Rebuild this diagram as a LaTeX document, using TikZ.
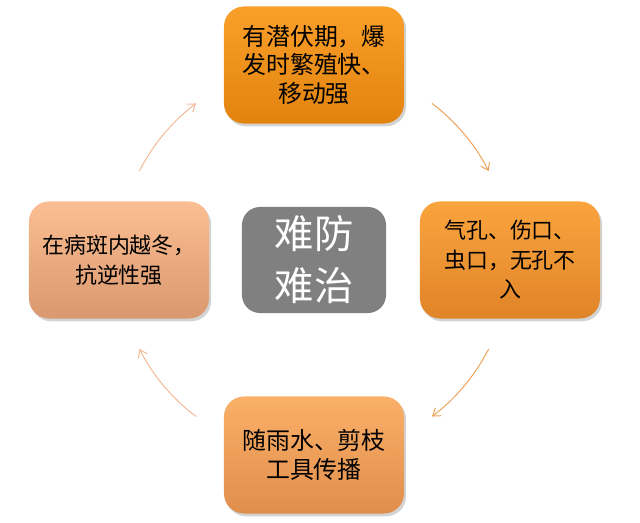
\documentclass[tikz,border=0pt]{standalone}
\usepackage{fontspec}
\newfontfamily\cjk{Noto Sans CJK SC}
\usetikzlibrary{arrows.meta,shadows}

\definecolor{ringA}{HTML}{EDA25A}
\definecolor{ringB}{HTML}{F2B896}

\tikzset{
  stagebox/.style={rounded corners=0.5cm, minimum width=4.5cm, minimum height=2.925cm,
    align=center, font=\cjk\fontsize{17}{20.5}\selectfont, text=black,
    drop shadow={opacity=0.35, shadow xshift=1.5pt, shadow yshift=-2pt}},
  cyc/.style={line width=0.7pt, -{Straight Barb[length=5pt,width=7pt]}}
}

\begin{document}
\begin{tikzpicture}[x=0.025cm,y=0.025cm]

\useasboundingbox (0,0) rectangle (640,523);

% Hub
\coordinate (hub) at (314,263);
\node[rounded corners=0.45cm, fill=black!50, minimum width=3.6cm, minimum height=2.65cm,
  align=center, text=white, font=\cjk\fontsize{28}{37}\selectfont] (core) at (hub)
  {难防\\难治};

% Stages
\node[stagebox, top color={rgb,255:red,250;green,160;blue,42}, bottom color={rgb,255:red,226;green,131;blue,14}]
  (latent) at (314,458) {有潜伏期，爆\\发时繁殖快、\\移动强};

\node[stagebox, font=\cjk\fontsize{15.6}{21}\selectfont,
  top color={rgb,255:red,250;green,164;blue,62}, bottom color={rgb,255:red,224;green,132;blue,40}]
  (entry) at (510,263) {气孔、伤口、\\虫口，无孔不\\入};

\node[stagebox, top color={rgb,255:red,250;green,176;blue,104}, bottom color={rgb,255:red,224;green,142;blue,76}]
  (spread) at (314,68) {随雨水、剪枝\\工具传播};

\node[stagebox, font=\cjk\fontsize{15.6}{21}\selectfont,
  top color={rgb,255:red,251;green,190;blue,146}, bottom color={rgb,255:red,218;green,152;blue,110}]
  (winter) at (119,263) {在病斑内越冬，\\抗逆性强};

% Cycle arrows
\draw[cyc, ringA] ({314+196*cos(53)},{263+196*sin(53)})
  arc[start angle=53,end angle=27,radius=4.9cm];
\draw[cyc, ringA] ({314+196*cos(-27)},{263+196*sin(-27)})
  arc[start angle=-27,end angle=-53,radius=4.9cm];
\draw[cyc, ringB] ({314+196*cos(233)},{263+196*sin(233)})
  arc[start angle=233,end angle=207,radius=4.9cm];
\draw[cyc, ringB] ({314+196*cos(153)},{263+196*sin(153)})
  arc[start angle=153,end angle=127,radius=4.9cm];

\end{tikzpicture}
\end{document}
